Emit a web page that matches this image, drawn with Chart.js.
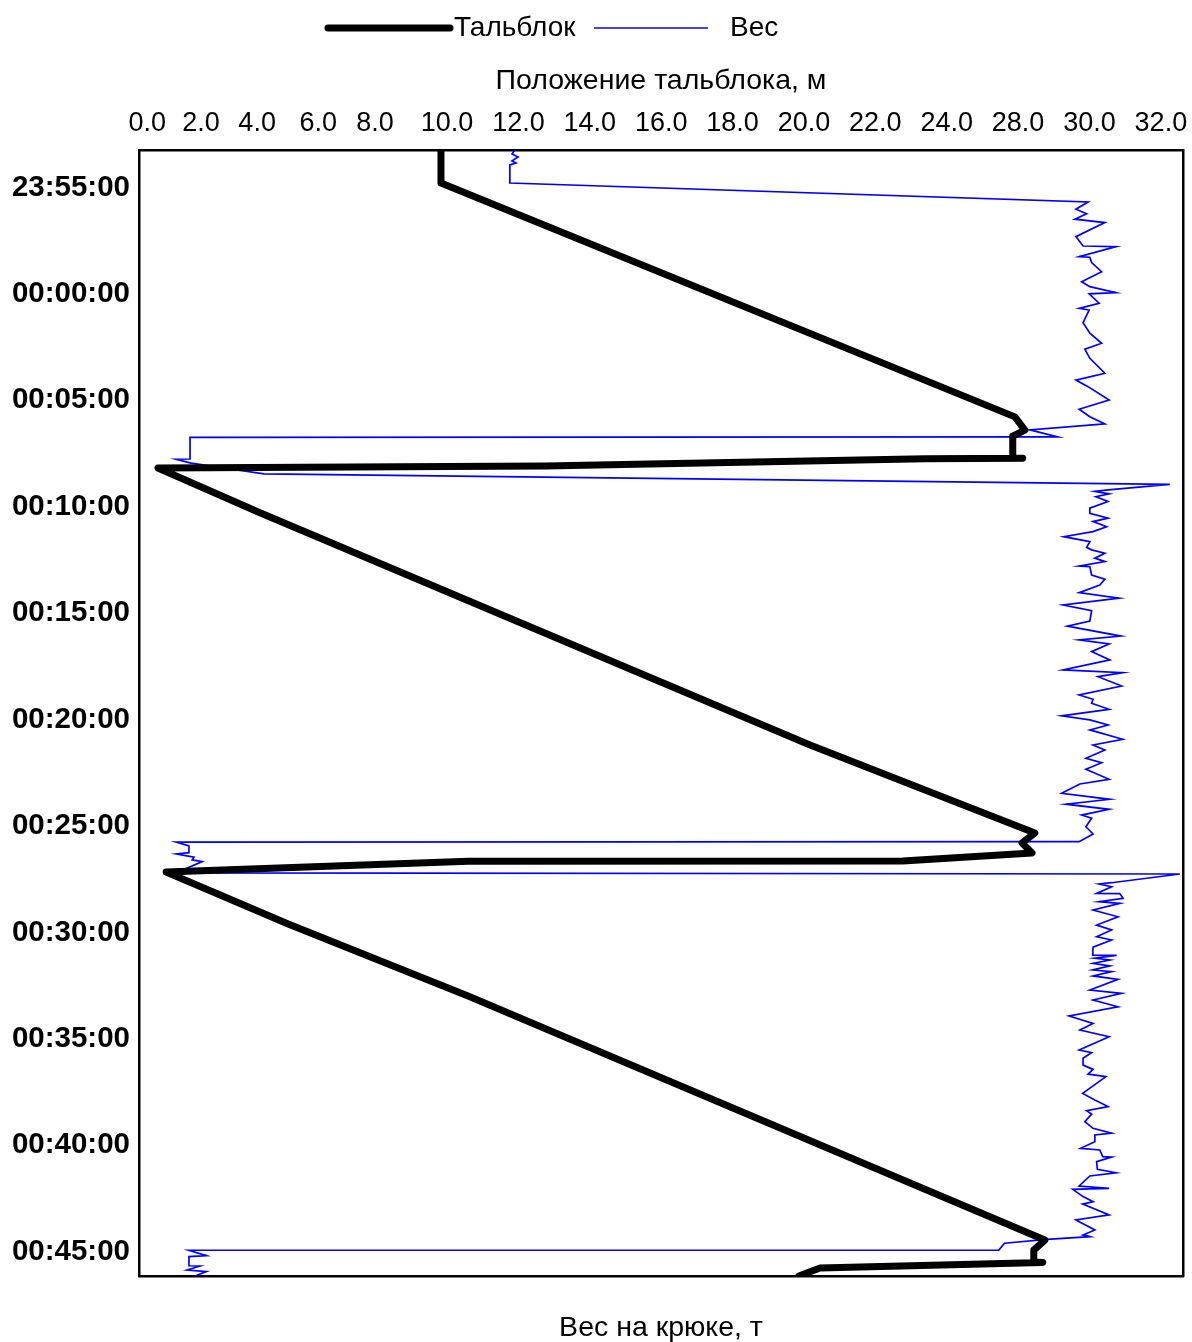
<!DOCTYPE html>
<html lang="ru">
<head>
<meta charset="utf-8">
<title>Тальблок и вес на крюке</title>
<script src="https://cdn.jsdelivr.net/npm/chart.js@4.4.1/dist/chart.umd.min.js"></script>
<style>
  html, body { margin: 0; padding: 0; background: #ffffff; }
  #wrap { width: 1192px; height: 1342px; position: relative; }
</style>
</head>
<body>
<div id="wrap"><canvas id="blockChart"></canvas></div>
<script>
// Time is in minutes relative to 00:00:00 (negative = before midnight)
const TIME_TICKS = [-5, 0, 5, 10, 15, 20, 25, 30, 35, 40, 45];

// Top axis labels, as they appear on the original plot
const TOP_TICK_VALUES = [1.6, 3.11, 4.68, 6.39, 7.98, 10, 12, 14, 16, 18, 20, 22, 24, 26, 28, 30];
const TOP_TICK_LABELS = ["0.0", "2.0", "4.0", "6.0", "8.0", "10.0", "12.0", "14.0", "16.0",
                         "18.0", "20.0", "22.0", "24.0", "28.0", "30.0", "32.0"];

// Тальблок: block position (m) over time
const TB_TIME = [-6.67, -5.12, 5.87, 6.49, 6.77, 7.80, 7.81, 7.84, 8.18, 8.27, 10.34, 21.29,
                 25.42, 25.89, 26.36, 26.74, 26.75, 27.26, 29.70, 33.08, 44.55, 45.02, 45.58,
                 45.60, 45.86, 46.24];
const TB_POS = [9.83, 9.83, 25.91, 26.19, 25.85, 25.85, 26.13, 23.39, 12.75, 1.90, 4.71, 20.17,
                26.47, 26.11, 26.39, 22.77, 10.59, 2.13, 5.55, 10.59, 26.75, 26.44, 26.44,
                26.69, 20.45, 19.86];

// Вес: hook load over time
const W_TIME = [
  -6.67, -6.48, -6.34, -6.16, -6.06, -5.97, -5.12, -4.23, -3.89, -3.67, -3.42, -3.26, -2.60, -2.16,
  -2.13, -1.66, -1.63, -1.38, -0.95, -0.48, -0.25, 0.03, 0.09, 0.53, 0.77, 0.85, 1.44, 1.94, 2.41,
  2.69, 3.12, 3.82, 4.14, 4.45, 5.08, 5.51, 5.86, 6.20, 6.48, 6.81, 6.83, 7.85, 7.86, 8.04, 8.55,
  9.04, 9.30, 9.37, 9.49, 9.62, 9.85, 10.16, 10.40, 10.63, 10.79, 11.03, 11.26, 11.50, 11.73, 12.00,
  12.12, 12.28, 12.51, 12.67, 12.88, 12.91, 13.30, 13.50, 13.77, 14.13, 14.39, 14.71, 14.98, 15.46,
  15.70, 16.17, 16.35, 16.54, 16.90, 17.29, 17.76, 17.89, 18.08, 18.52, 18.94, 19.14, 19.33, 19.61,
  19.92, 20.11, 20.35, 20.58, 21.02, 21.29, 21.52, 21.91, 22.12, 22.43, 22.90, 23.12, 23.56, 23.84,
  24.07, 24.31, 24.58, 24.73, 25.13, 25.47, 25.83, 25.85, 26.03, 26.35, 26.41, 26.56, 26.69, 26.77,
  27.30, 27.35, 27.76, 27.82, 27.95, 28.26, 28.27, 28.49, 28.65, 28.73, 29.04, 29.36, 29.75, 29.98,
  30.30, 30.45, 30.79, 31.16, 31.17, 31.31, 31.39, 31.55, 31.67, 31.86, 31.94, 32.14, 32.30, 32.80,
  32.96, 33.27, 33.59, 34.02, 34.37, 34.68, 35.00, 35.62, 35.75, 36.01, 36.33, 36.53, 36.75, 36.87,
  37.66, 37.97, 38.28, 38.47, 38.63, 38.99, 39.30, 39.53, 39.61, 39.93, 40.24, 40.32, 40.63, 40.65,
  40.87, 41.23, 41.39, 41.54, 42.01, 42.12, 42.17, 42.51, 42.75, 42.86, 43.37, 43.61, 44.08, 44.31,
  44.39, 44.52, 44.70, 45.02, 45.03, 45.28, 45.33, 45.76, 45.77, 45.96, 46.03, 46.24
];
const W_LOAD = [
  11.90, 11.82, 11.99, 11.82, 11.93, 11.76, 11.76, 27.96, 27.62, 27.92, 27.59, 28.43, 27.62, 27.82,
  28.74, 27.71, 28.01, 28.06, 28.34, 27.78, 28.01, 28.74, 27.99, 28.27, 27.71, 27.99, 27.82, 28.01, 28.34,
  27.87, 28.01, 28.43, 27.62, 27.96, 28.55, 27.71, 28.01, 28.43, 26.33, 27.11, 2.80, 2.80, 2.41, 2.83, 4.87,
  30.25, 28.52, 28.15, 28.55, 28.18, 28.52, 28.01, 28.01, 28.52, 28.10, 28.48, 28.10, 27.28, 28.01, 27.92,
  28.06, 28.43, 28.15, 28.43, 27.71, 28.01, 28.06, 28.43, 28.29, 27.71, 28.83, 27.26, 28.06, 28.01,
  27.38, 28.88, 27.71, 28.55, 28.06, 28.57, 27.26, 28.93, 28.24, 28.90, 27.71, 28.10, 28.06, 28.55,
  27.22, 28.01, 28.52, 28.01, 28.93, 28.10, 28.43, 27.90, 28.34, 27.90, 28.55, 27.73, 27.22, 28.57,
  27.34, 28.55, 27.78, 28.06, 27.90, 28.10, 27.71, 2.41, 2.77, 2.77, 2.42, 2.91, 2.86, 3.14,
  2.41, 30.53, 28.62, 28.27, 28.62, 28.20, 28.85, 28.94, 28.27, 28.85, 28.10, 28.80, 28.20, 28.62,
  28.20, 28.62, 28.10, 28.09, 28.76, 28.15, 28.57, 28.10, 28.57, 28.09, 28.62, 28.10, 28.80, 28.01,
  28.90, 28.10, 28.80, 27.43, 28.10, 27.73, 28.55, 27.71, 28.06, 27.82, 27.82, 28.10, 27.96, 28.46,
  27.81, 28.15, 28.52, 27.92, 28.06, 27.87, 28.10, 28.62, 28.15, 28.15, 27.75, 28.29, 28.37, 28.62,
  28.20, 28.22, 28.74, 28.01, 27.71, 28.55, 27.53, 27.82, 28.10, 27.81, 28.55, 27.62, 28.15, 27.82,
  28.01, 26.80, 25.62, 25.46, 2.77, 3.26, 2.77, 2.77, 3.08, 2.72, 3.26, 2.94
];

// axis ranges
const X_MIN = 1.37, X_MAX = 30.62;
const T_MIN = -6.67, T_MAX = 46.24;

(() => {
  Chart.defaults.font.family = '"Liberation Sans", Arial, sans-serif';
  Chart.defaults.color = "#000000";

  // minutes -> "HH:MM:SS"
  const fmtTime = (v) => {
    const m = ((Math.round(v) % 1440) + 1440) % 1440;
    const hh = String(Math.floor(m / 60)).padStart(2, "0");
    const mm = String(m % 60).padStart(2, "0");
    return `${hh}:${mm}:00`;
  };

  // fixed box sizes so the plot frame lands where the original has it;
  // also drop the label overflow padding Chart.js adds at the ends
  const fixBox = (w, h) => (s) => {
    if (w !== null) s.width = w;
    if (h !== null) s.height = h;
    s.paddingLeft = s.paddingRight = s.paddingTop = s.paddingBottom = 0;
  };

  // Legend drawn as plain line samples above the top axis (like the original)
  const lineLegend = {
    id: "lineLegend",
    afterDraw(chart) {
      const { ctx } = chart;
      const y = 28;
      const items = [
        { ds: chart.data.datasets[0], x0: 328, x1: 450, tx: 454 },
        { ds: chart.data.datasets[1], x0: 594, x1: 708, tx: 730 }
      ];
      ctx.save();
      ctx.font = '28px "Liberation Sans", Arial, sans-serif';
      ctx.textBaseline = "middle";
      items.forEach((it) => {
        ctx.strokeStyle = it.ds.borderColor;
        ctx.lineWidth = it.ds.borderWidth;
        ctx.lineCap = it.ds.borderCapStyle || "butt";
        ctx.beginPath();
        ctx.moveTo(it.x0, y);
        ctx.lineTo(it.x1, y);
        ctx.stroke();
        ctx.fillStyle = "#000000";
        ctx.fillText(it.ds.label, it.tx, y);
      });
      ctx.restore();
    }
  };

  const frame = { display: true, color: "#000000", width: 2.5 };

  new Chart(document.getElementById("blockChart"), {
    type: "line",
    data: {
      datasets: [
        {
          label: "Тальблок",
          data: TB_TIME.map((t, i) => ({ x: TB_POS[i], y: t })),
          xAxisID: "x",
          yAxisID: "y",
          borderColor: "#000000",
          borderWidth: 7,
          borderJoinStyle: "round",
          borderCapStyle: "round",
          pointRadius: 0,
          tension: 0,
          order: 1
        },
        {
          label: "Вес",
          data: W_TIME.map((t, i) => ({ x: W_LOAD[i], y: t })),
          xAxisID: "x2",
          yAxisID: "y",
          borderColor: "#0000ff",
          borderWidth: 1.7,
          pointRadius: 0,
          tension: 0,
          order: 2
        }
      ]
    },
    options: {
      responsive: true,
      maintainAspectRatio: false,
      animation: false,
      layout: { padding: 0 },
      plugins: {
        legend: { display: false },
        tooltip: { enabled: false }
      },
      scales: {
        x: {
          type: "linear",
          position: "top",
          min: X_MIN,
          max: X_MAX,
          afterBuildTicks: (s) => { s.ticks = TOP_TICK_VALUES.map((v) => ({ value: v })); },
          afterFit: fixBox(null, 150),
          ticks: {
            autoSkip: false,
            maxRotation: 0,
            padding: 10,
            font: { size: 27 },
            callback: (v, i) => TOP_TICK_LABELS[i]
          },
          grid: { display: false, drawTicks: false },
          border: frame,
          title: {
            display: true,
            text: "Положение тальблока, м",
            font: { size: 28.5, lineHeight: 1 },
            padding: { top: 67, bottom: 0 }
          }
        },
        x2: {
          type: "linear",
          position: "bottom",
          min: X_MIN,
          max: X_MAX,
          afterFit: fixBox(null, 66),
          ticks: { display: false },
          grid: { display: false, drawTicks: false },
          border: frame,
          title: {
            display: true,
            text: "Вес на крюке, т",
            font: { size: 28.5, lineHeight: 1 },
            padding: { top: 0, bottom: 0 }
          }
        },
        y: {
          type: "linear",
          position: "left",
          reverse: true,
          min: T_MIN,
          max: T_MAX,
          afterBuildTicks: (s) => { s.ticks = TIME_TICKS.map((v) => ({ value: v })); },
          afterFit: fixBox(139, null),
          ticks: {
            autoSkip: false,
            padding: 9,
            labelOffset: 2,
            font: { size: 29.5, weight: "bold" },
            callback: (v) => fmtTime(v)
          },
          grid: { display: false, drawTicks: false },
          border: frame
        },
        y2: {
          type: "linear",
          position: "right",
          afterFit: fixBox(9, null),
          ticks: { display: false },
          grid: { display: false, drawTicks: false },
          border: frame
        }
      }
    },
    plugins: [lineLegend]
  });
})();
</script>
</body>
</html>
